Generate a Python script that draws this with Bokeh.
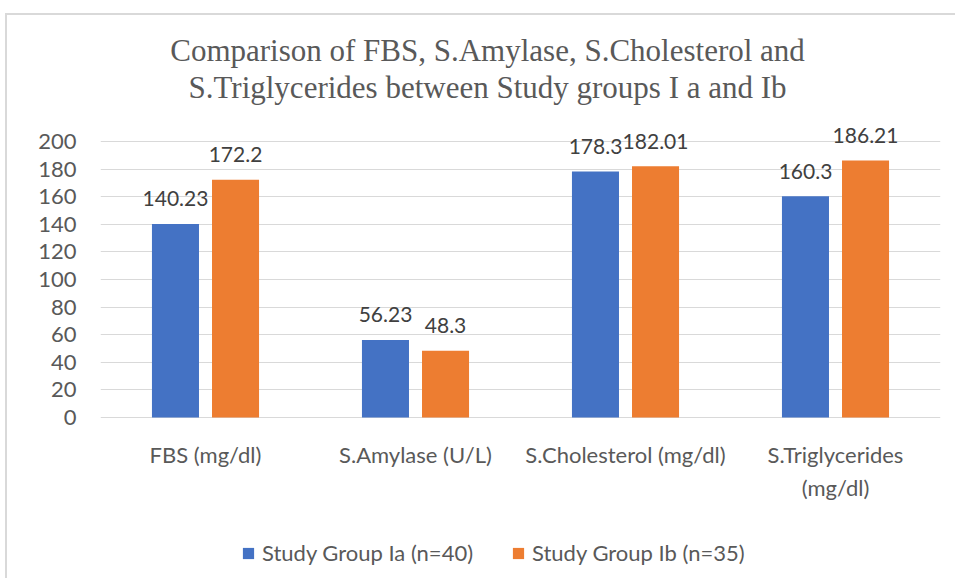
from bokeh.plotting import figure
from bokeh.models import ColumnDataSource, FactorRange, Range1d, Legend, LegendItem, Label, FixedTicker
from bokeh.transform import dodge
from bokeh.embed import file_html
from bokeh.resources import INLINE

categories = ["FBS (mg/dl)", "S.Amylase (U/L)", "S.Cholesterol (mg/dl)", "S.Triglycerides\n(mg/dl)"]
group_ia = [140.23, 56.23, 178.3, 160.3]
group_ib = [172.2, 48.3, 182.01, 186.21]
series_names = ["Study Group Ia (n=40)", "Study Group Ib (n=35)"]
y_ticks = [0, 20, 40, 60, 80, 100, 120, 140, 160, 180, 200]
title_lines = ["Comparison of FBS, S.Amylase, S.Cholesterol and",
               "S.Triglycerides between Study groups I a and Ib"]

BLUE = "#4472C4"
ORANGE = "#ED7D31"
TEXT = "#595959"
FONT = "Lato"

src = ColumnDataSource(dict(
    cat=categories,
    ia=group_ia,
    ib=group_ib,
    ia_lbl=[f"{v:g}" for v in group_ia],
    ib_lbl=[f"{v:g}" for v in group_ib],
))

p = figure(width=950, height=565, x_range=FactorRange(*categories, range_padding=0),
           y_range=Range1d(-118.12, 291.3), output_backend="svg", toolbar_location=None,
           min_border_left=93, min_border_right=17, min_border_top=0, min_border_bottom=0)
p.outline_line_color = None
p.background_fill_color = "white"
p.border_fill_color = "white"

r1 = p.vbar(x=dodge("cat", -0.143, range=p.x_range), top="ia", bottom=0, width=0.224, source=src,
            fill_color=BLUE, line_color=None)
r2 = p.vbar(x=dodge("cat", 0.143, range=p.x_range), top="ib", bottom=0, width=0.224, source=src,
            fill_color=ORANGE, line_color=None)

for col, lbl, off in (("ia", "ia_lbl", -0.143), ("ib", "ib_lbl", 0.143)):
    p.text(x=dodge("cat", off, range=p.x_range), y=col, text=lbl, source=src,
           text_align="center", text_baseline="alphabetic", y_offset=-25,
           text_font={"value": FONT}, text_font_size="21px", text_color="#404040")

# axes
p.yaxis.ticker = FixedTicker(ticks=y_ticks)
p.yaxis.axis_line_color = None
p.yaxis.major_tick_line_color = None
p.yaxis.minor_tick_line_color = None
p.yaxis.major_label_text_font = FONT
p.yaxis.major_label_text_font_size = "22px"
p.yaxis.major_label_text_color = TEXT
p.yaxis.major_label_standoff = 18

p.xaxis.fixed_location = 0
p.xaxis.axis_line_color = None
p.xaxis.major_tick_line_color = None
p.xaxis.major_label_text_font = FONT
p.xaxis.major_label_text_font_size = "22px"
p.xaxis.major_label_text_color = TEXT
p.xaxis.major_label_standoff = 18

p.xgrid.grid_line_color = None
p.ygrid.grid_line_color = "#D9D9D9"
p.ygrid.grid_line_width = 1

# title (two lines, serif)
for line, yy in zip(title_lines, (265.6, 239.2)):
    p.add_layout(Label(x=1.843, y=yy, text=line, text_align="center",
                       text_baseline="alphabetic", text_font="Liberation Serif",
                       text_font_size="31px", text_color=TEXT))

legend = Legend(items=[LegendItem(label=series_names[0], renderers=[r1]),
                       LegendItem(label=series_names[1], renderers=[r2])],
                orientation="horizontal", location=(141, 14),
                label_text_font=FONT, label_text_font_size="22px", label_text_color=TEXT,
                glyph_width=14, glyph_height=14, label_standoff=7, spacing=38,
                padding=0, margin=0, border_line_color=None, background_fill_alpha=0)
p.add_layout(legend, "center")

p.styles = {"margin-left": "5px", "margin-top": "13px",
            "border-left": "2px solid #D9D9D9", "border-top": "2px solid #D9D9D9"}

open("out.html", "w").write(file_html(p, INLINE))
